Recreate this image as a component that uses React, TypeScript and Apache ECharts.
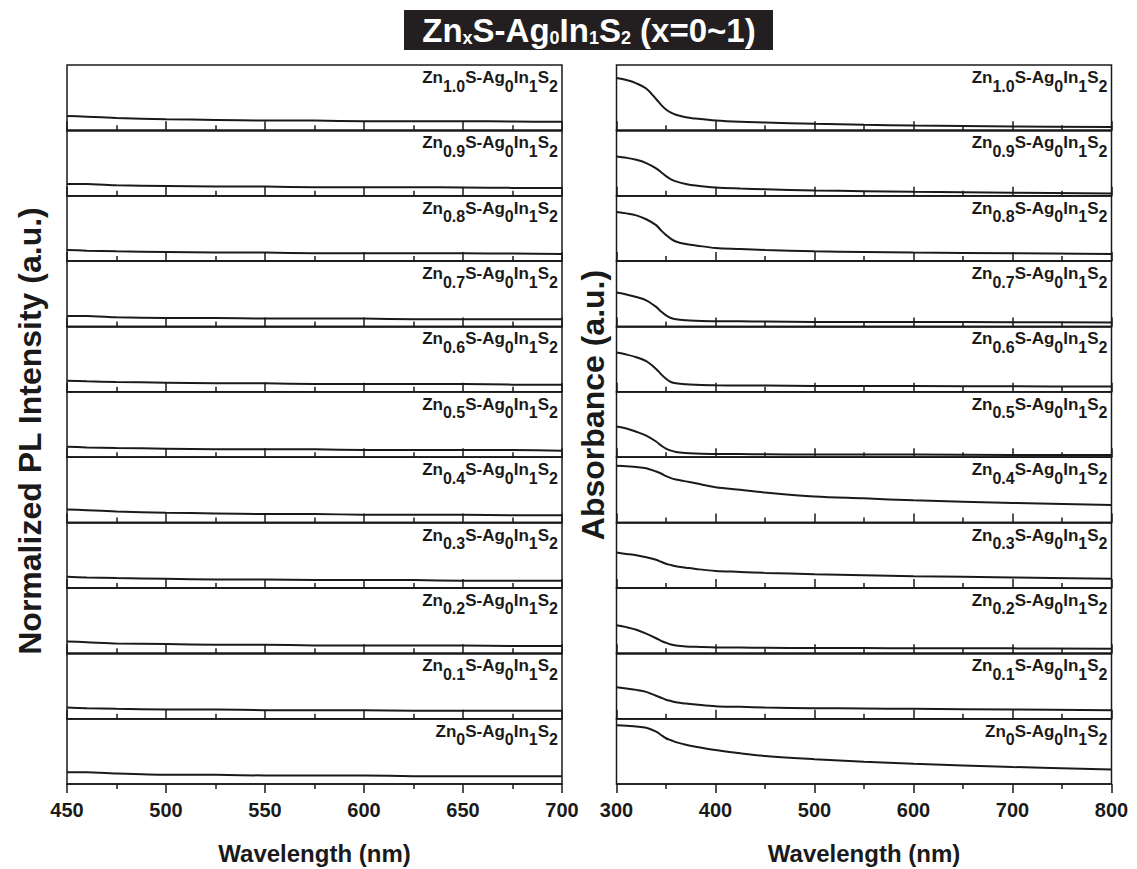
import React, { useEffect, useRef } from "react";
import * as echarts from "echarts";

// ---------- data ----------
const plX = [450, 460, 475, 500, 525, 550, 575, 600, 625, 650, 675, 700];
const absX = [300, 310, 320, 330, 340, 345, 350, 355, 360, 370, 380, 400, 425, 450, 500, 550, 600, 700, 800];
const xLabels = ["1.0", "0.9", "0.8", "0.7", "0.6", "0.5", "0.4", "0.3", "0.2", "0.1", "0"];

const pl10 = [0.22, 0.21, 0.19, 0.17, 0.16, 0.15, 0.15, 0.14, 0.14, 0.14, 0.135, 0.13];
const pl09 = [0.18, 0.18, 0.16, 0.15, 0.14, 0.14, 0.13, 0.13, 0.13, 0.125, 0.12, 0.12];
const pl08 = [0.17, 0.16, 0.15, 0.14, 0.13, 0.13, 0.12, 0.12, 0.12, 0.12, 0.115, 0.11];
const pl07 = [0.16, 0.16, 0.14, 0.13, 0.13, 0.12, 0.12, 0.12, 0.11, 0.11, 0.11, 0.11];
const pl06 = [0.17, 0.16, 0.15, 0.14, 0.13, 0.13, 0.12, 0.12, 0.12, 0.12, 0.11, 0.11];
const pl05 = [0.16, 0.15, 0.14, 0.13, 0.12, 0.12, 0.12, 0.11, 0.11, 0.11, 0.11, 0.1];
const pl04 = [0.2, 0.19, 0.17, 0.15, 0.14, 0.13, 0.13, 0.12, 0.12, 0.12, 0.11, 0.11];
const pl03 = [0.17, 0.16, 0.15, 0.14, 0.13, 0.13, 0.12, 0.12, 0.12, 0.11, 0.11, 0.11];
const pl02 = [0.18, 0.17, 0.15, 0.14, 0.13, 0.13, 0.12, 0.12, 0.12, 0.12, 0.11, 0.11];
const pl01 = [0.17, 0.16, 0.15, 0.14, 0.14, 0.13, 0.13, 0.13, 0.12, 0.12, 0.12, 0.12];
const pl00 = [0.18, 0.18, 0.16, 0.14, 0.14, 0.13, 0.13, 0.13, 0.12, 0.12, 0.12, 0.12];

const ab10 = [0.8, 0.77, 0.72, 0.64, 0.48, 0.39, 0.32, 0.27, 0.24, 0.2, 0.18, 0.15, 0.13, 0.12, 0.1, 0.085, 0.075, 0.06, 0.05];
const ab09 = [0.6, 0.58, 0.55, 0.5, 0.42, 0.36, 0.3, 0.25, 0.22, 0.18, 0.155, 0.125, 0.11, 0.1, 0.08, 0.07, 0.06, 0.045, 0.035];
const ab08 = [0.75, 0.73, 0.7, 0.64, 0.55, 0.47, 0.4, 0.34, 0.3, 0.26, 0.24, 0.2, 0.185, 0.17, 0.15, 0.14, 0.13, 0.12, 0.11];
const ab07 = [0.52, 0.49, 0.45, 0.4, 0.3, 0.23, 0.17, 0.13, 0.11, 0.095, 0.088, 0.08, 0.078, 0.075, 0.07, 0.07, 0.068, 0.065, 0.06];
const ab06 = [0.6, 0.57, 0.53, 0.47, 0.35, 0.27, 0.2, 0.15, 0.13, 0.115, 0.108, 0.1, 0.097, 0.095, 0.09, 0.09, 0.088, 0.085, 0.08];
const ab05 = [0.47, 0.44, 0.39, 0.33, 0.24, 0.18, 0.13, 0.1, 0.08, 0.065, 0.058, 0.05, 0.047, 0.045, 0.04, 0.04, 0.04, 0.035, 0.035];
const ab04 = [0.87, 0.86, 0.85, 0.83, 0.78, 0.75, 0.71, 0.68, 0.66, 0.63, 0.6, 0.54, 0.5, 0.46, 0.4, 0.37, 0.34, 0.3, 0.27];
const ab03 = [0.54, 0.52, 0.5, 0.47, 0.43, 0.4, 0.37, 0.35, 0.33, 0.31, 0.29, 0.26, 0.245, 0.23, 0.21, 0.195, 0.18, 0.16, 0.14];
const ab02 = [0.43, 0.4, 0.36, 0.3, 0.23, 0.19, 0.16, 0.135, 0.12, 0.105, 0.098, 0.09, 0.087, 0.085, 0.08, 0.08, 0.075, 0.075, 0.07];
const ab01 = [0.48, 0.46, 0.44, 0.41, 0.35, 0.32, 0.29, 0.27, 0.25, 0.23, 0.215, 0.19, 0.18, 0.17, 0.16, 0.155, 0.15, 0.14, 0.13];
const ab00 = [0.9, 0.89, 0.88, 0.86, 0.8, 0.75, 0.7, 0.67, 0.64, 0.6, 0.57, 0.52, 0.47, 0.43, 0.38, 0.34, 0.31, 0.26, 0.22];

const plSeries = [pl10, pl09, pl08, pl07, pl06, pl05, pl04, pl03, pl02, pl01, pl00];
const absSeries = [ab10, ab09, ab08, ab07, ab06, ab05, ab04, ab03, ab02, ab01, ab00];

const plTicks = { min: 450, max: 700, interval: 50 };
const absTicks = { min: 300, max: 800, interval: 100 };

// ---------- layout ----------
const FONT = "'Liberation Sans', Arial, Helvetica, sans-serif";
const INK = "#1a1a1a";
const TOP = 65;
const BOTTOM = 784;
const N = 11;
const PH = (BOTTOM - TOP) / N;
const LEFT_X = 67;
const RIGHT_X = 616.5;
const PW = 495;

export default function App() {
  const ref = useRef<HTMLDivElement>(null);

  useEffect(() => {
    if (!ref.current) return;
    const chart = echarts.init(ref.current, undefined, { renderer: "svg" });

    const grids: any[] = [];
    const xAxes: any[] = [];
    const yAxes: any[] = [];
    const series: any[] = [];
    const graphics: any[] = [];

    const columns = [
      { left: LEFT_X, ticks: plTicks, xs: plX, data: plSeries, smooth: 0.2 },
      { left: RIGHT_X, ticks: absTicks, xs: absX, data: absSeries, smooth: 0.35 },
    ];

    columns.forEach((col) => {
      for (let i = 0; i < N; i++) {
        const idx = grids.length;
        const isBottom = i === N - 1;
        const top = TOP + i * PH;
        grids.push({
          left: col.left,
          top,
          width: PW,
          height: PH,
          show: true,
          borderColor: INK,
          borderWidth: 1.5,
          backgroundColor: "transparent",
        });
        xAxes.push({
          type: "value",
          gridIndex: idx,
          min: col.ticks.min,
          max: col.ticks.max,
          interval: col.ticks.interval,
          axisLine: { show: true, onZero: false, lineStyle: { color: INK, width: 1.5 } },
          axisTick: { show: true, inside: !isBottom, length: 9, lineStyle: { color: INK, width: 1.5 } },
          minorTick: { show: true, splitNumber: 2, length: 5, lineStyle: { color: INK, width: 1.5 } },
          axisLabel: {
            show: isBottom,
            fontSize: 20,
            fontWeight: "bold",
            fontFamily: FONT,
            color: INK,
            margin: 16,
          },
          splitLine: { show: false },
          minorSplitLine: { show: false },
        });
        yAxes.push({ type: "value", gridIndex: idx, min: 0, max: 1, show: false });
        series.push({
          type: "line",
          xAxisIndex: idx,
          yAxisIndex: idx,
          data: col.xs.map((x, k) => [x, col.data[i][k]]),
          showSymbol: false,
          smooth: col.smooth,
          lineStyle: { color: INK, width: 2 },
          silent: true,
        });
        const lbl = xLabels[i];
        graphics.push({
          type: "text",
          x: col.left + PW - 4,
          y: top + 4,
          style: {
            text: `{m|Zn}{s|${lbl}}{m|S-Ag}{s|0}{m|In}{s|1}{m|S}{s|2}`,
            align: "right",
            verticalAlign: "top",
            rich: {
              m: { fontSize: 17, fontWeight: "bold", fontFamily: FONT, fill: INK, color: INK, lineHeight: 17, verticalAlign: "top" },
              s: { fontSize: 16, fontWeight: "bold", fontFamily: FONT, fill: INK, color: INK, lineHeight: 25, verticalAlign: "bottom" },
            },
          },
        });
      }
    });

    // Title
    graphics.push({
      type: "rect",
      shape: { x: 404, y: 10, width: 369, height: 40 },
      style: { fill: "#231f20" },
    });
    const tm = { fontSize: 33, fontWeight: "bold", fontFamily: FONT, fill: "#fff", color: "#fff", lineHeight: 33, verticalAlign: "top" };
    const ts = { fontSize: 18, fontWeight: "bold", fontFamily: FONT, fill: "#fff", color: "#fff", lineHeight: 15, verticalAlign: "bottom" };
    graphics.push({
      type: "text",
      x: 589,
      y: 30,
      style: {
        text: "{m|Zn}{s|x}{m|S-Ag}{s|0}{m|In}{s|1}{m|S}{s|2}{m| (x=0~1)}",
        align: "center",
        verticalAlign: "middle",
        rich: { m: tm, s: ts },
      },
    });

    // Axis titles
    const titleFont = `bold 24px ${FONT}`;
    graphics.push({
      type: "text",
      x: LEFT_X + PW / 2,
      y: 853,
      style: { text: "Wavelength (nm)", font: titleFont, fill: INK, align: "center", verticalAlign: "middle" },
    });
    graphics.push({
      type: "text",
      x: RIGHT_X + PW / 2,
      y: 853,
      style: { text: "Wavelength (nm)", font: titleFont, fill: INK, align: "center", verticalAlign: "middle" },
    });
    graphics.push({
      type: "text",
      x: 30,
      y: 431,
      rotation: Math.PI / 2,
      style: { text: "Normalized PL Intensity (a.u.)", font: `bold 32px ${FONT}`, fill: INK, align: "center", verticalAlign: "middle" },
    });
    graphics.push({
      type: "text",
      x: 593,
      y: 405,
      rotation: Math.PI / 2,
      style: { text: "Absorbance (a.u.)", font: `bold 32px ${FONT}`, fill: INK, align: "center", verticalAlign: "middle" },
    });

    chart.setOption({
      animation: false,
      backgroundColor: "#ffffff",
      grid: grids,
      xAxis: xAxes,
      yAxis: yAxes,
      series,
      graphic: { elements: graphics },
    });

    return () => chart.dispose();
  }, []);

  return (
    <div
      ref={ref}
      style={{ position: "fixed", left: 0, top: 0, width: 1137, height: 869, background: "#fff" }}
    />
  );
}
